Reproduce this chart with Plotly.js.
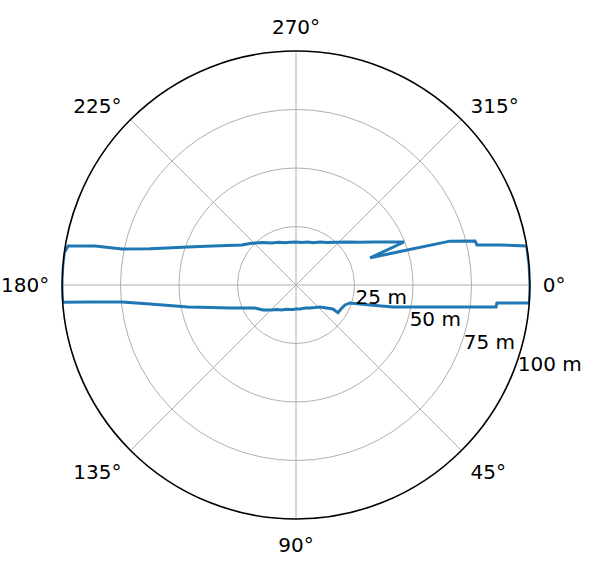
<!DOCTYPE html>
<html>
<head>
<meta charset="utf-8">
<script src="https://cdn.plot.ly/plotly-3.0.1.min.js"></script>
<style>
  html, body { margin: 0; padding: 0; background: #ffffff; }
  #chart { width: 595px; height: 573px; }
</style>
</head>
<body>
<div id="chart"></div>
<script>
// Scan angles (degrees, clockwise from east) and ranges (metres)
const thetaDeg = [
  0, 2, 4.4, 5.1, 6.3, 8.7, 12.8, 15.1, 18.4, 22.2, 28.1, 33.4, 33.0, 42.5,
  50, 58, 66.5, 75, 82, 90, 97, 103.8, 112, 120, 128, 135, 142.9, 150.7,
  155, 160.8, 165, 168.5, 172.6, 174.4, 175.3, 175.8, 178, 180, 182, 185,
  187.9, 189.7, 191.0, 191.7, 193.9, 196, 199.4, 205, 210, 216.5, 222,
  225.7, 232, 240, 248, 255, 262, 270, 278, 285, 292, 299.2, 306, 313,
  320, 326, 331, 335, 338.3, 339.9, 342.2, 344.1, 346.2, 347.5, 348.9,
  350.4, 355, 360
];
const rangeM = [
  100, 100, 100, 86.2, 86.0, 62.3, 42.5, 32.8, 24.3, 22.6, 21.8, 21.5, 18.8, 13.9,
  12.6, 11.6, 10.7, 10.4, 10.4, 10.3, 10.5, 10.8, 11.2, 12.3, 13.3, 15.1, 17.7, 20.1,
  23.3, 29.9, 37.2, 47.1, 62.9, 74.7, 88.3, 100, 100, 100, 100, 100,
  100, 98.8, 87.5, 75.9, 64.3, 57.4, 48.9, 39.4, 33.8, 28.7, 26.5,
  25.1, 23.0, 20.7, 19.7, 18.7, 18.4, 18.4, 18.3, 19.0, 19.5, 21.0, 22.5, 25.0,
  28.6, 32.6, 37.9, 43.5, 49.7, 33.7, 46.7, 68.4, 78.8, 79.2, 88.8,
  100, 100, 100
];
const radialTicks = [25, 50, 75, 100];
const radialLabels = ['25 m', '50 m', '75 m', '100 m'];
const angularTicks = [0, 45, 90, 135, 180, 225, 270, 315];
const angularLabels = ['0°', '45°', '90°', '135°', '180°', '225°', '270°', '315°'];

const trace = {
  type: 'scatterpolar',
  mode: 'lines',
  r: rangeM,
  theta: thetaDeg,
  line: { color: '#1f77b4', width: 3 },
  hoverinfo: 'skip',
  showlegend: false
};

const layout = {
  width: 595,
  height: 573,
  margin: { l: 0, r: 0, t: 0, b: 0 },
  paper_bgcolor: '#ffffff',
  font: { family: 'DejaVu Sans, sans-serif', size: 20, color: '#000000' },
  showlegend: false,
  polar: {
    domain: { x: [62 / 595, 530 / 595], y: [54 / 573, 522 / 573] },
    bgcolor: '#ffffff',
    angularaxis: {
      rotation: 0,
      direction: 'clockwise',
      tickmode: 'array',
      tickvals: angularTicks,
      ticktext: angularLabels,
      ticks: 'outside',
      ticklen: 8,
      tickcolor: 'rgba(0,0,0,0)',
      showline: true,
      linecolor: '#000000',
      linewidth: 1.6,
      showgrid: true,
      gridcolor: '#b0b0b0',
      gridwidth: 1,
      tickfont: { family: 'DejaVu Sans, sans-serif', size: 20, color: '#000000' }
    },
    radialaxis: {
      range: [0, 100],
      angle: -22.5,
      side: 'counterclockwise',
      tickangle: -22.5,
      tickmode: 'array',
      tickvals: radialTicks,
      ticktext: radialLabels,
      ticks: '',
      showline: false,
      showgrid: true,
      gridcolor: '#b0b0b0',
      gridwidth: 1,
      tickfont: { family: 'DejaVu Sans, sans-serif', size: 20, color: '#000000' }
    }
  }
};

Plotly.newPlot('chart', [trace], layout, { displayModeBar: false, staticPlot: true });
</script>
</body>
</html>
